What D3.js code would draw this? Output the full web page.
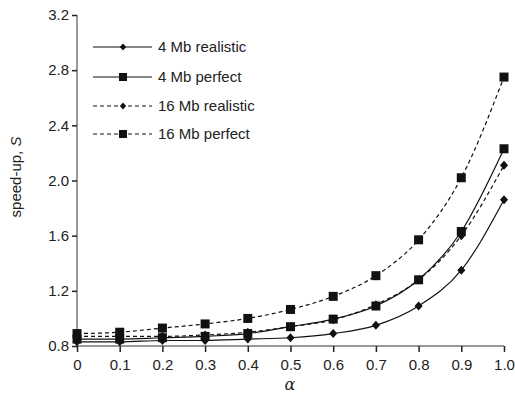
<!DOCTYPE html>
<html>
<head>
<meta charset="utf-8">
<script src="https://cdn.jsdelivr.net/npm/d3@7"></script>
<style>
  body { margin: 0; background: #fff; }
  text { font-family: "Liberation Sans", Arial, sans-serif; fill: #222; }
</style>
</head>
<body>
<div id="chart"></div>
<script>
var alphas = [0, 0.1, 0.2, 0.3, 0.4, 0.5, 0.6, 0.7, 0.8, 0.9, 1.0];
var mb4Realistic  = [0.83, 0.83, 0.84, 0.84, 0.85, 0.86, 0.89, 0.95, 1.09, 1.35, 1.86];
var mb4Perfect    = [0.85, 0.85, 0.86, 0.87, 0.89, 0.94, 0.995, 1.09, 1.28, 1.63, 2.23];
var mb16Realistic = [0.87, 0.87, 0.87, 0.88, 0.90, 0.94, 0.99, 1.10, 1.28, 1.60, 2.11];
var mb16Perfect   = [0.89, 0.90, 0.93, 0.96, 1.00, 1.065, 1.16, 1.31, 1.57, 2.02, 2.75];
var yTicks = [0.8, 1.2, 1.6, 2.0, 2.4, 2.8, 3.2];
var xTicks = [0, 0.1, 0.2, 0.3, 0.4, 0.5, 0.6, 0.7, 0.8, 0.9, 1.0];

var series = [
  {name: '4 Mb realistic', values: mb4Realistic, dash: null, marker: 'diamond'},
  {name: '4 Mb perfect', values: mb4Perfect, dash: null, marker: 'square'},
  {name: '16 Mb realistic', values: mb16Realistic, dash: '4,3', marker: 'diamond'},
  {name: '16 Mb perfect', values: mb16Perfect, dash: '4,3', marker: 'square'}
];

var width = 515, height = 394;
var svg = d3.select('#chart').append('svg')
    .attr('width', width)
    .attr('height', height);

var x = d3.scaleLinear().domain([0, 1]).range([77, 504]);
var y = d3.scaleLinear().domain([0.8, 3.2]).range([346, 15]);

// axes
var xAxis = svg.append('g')
    .attr('transform', 'translate(0,346)')
    .call(d3.axisBottom(x).tickValues(xTicks).tickSize(6).tickPadding(7)
          .tickFormat(function(d) { return d === 0 ? '0' : d3.format('.1f')(d); }));
var yAxis = svg.append('g')
    .attr('transform', 'translate(77,0)')
    .call(d3.axisLeft(y).tickValues(yTicks).tickSize(5).tickPadding(3).tickFormat(d3.format('.1f')));

[xAxis, yAxis].forEach(function(a) {
  a.select('.domain').attr('stroke', '#777').attr('stroke-width', 1.5);
  a.selectAll('.tick line').attr('stroke', '#222').attr('stroke-width', 1.5);
  a.selectAll('.tick text').style('font-size', '15px')
      .style('font-family', '"Liberation Sans", Arial, sans-serif').attr('fill', '#222');
});
yAxis.select('.domain').attr('d', 'M0,346V15');
xAxis.select('.domain').attr('d', 'M' + x(0) + ',0H' + x(1));

// axis titles
svg.append('text')
    .attr('x', 290).attr('y', 390)
    .attr('text-anchor', 'middle')
    .style('font-family', '"DejaVu Serif", "Liberation Serif", serif')
    .style('font-style', 'italic')
    .style('font-size', '16px')
    .text('α');

var yl = svg.append('text')
    .attr('transform', 'translate(21,177) rotate(-90)')
    .attr('text-anchor', 'middle')
    .style('font-size', '15px');
yl.append('tspan').text('speed-up, ');
yl.append('tspan').style('font-style', 'italic').text('S');

function drawMarker(g, type, cx, cy, r) {
  if (type === 'diamond') {
    g.append('path')
      .attr('d', 'M' + cx + ',' + (cy - r) + 'L' + (cx + r * 0.9) + ',' + cy + 'L' + cx + ',' + (cy + r) + 'L' + (cx - r * 0.9) + ',' + cy + 'Z')
      .attr('fill', '#111');
  } else {
    g.append('rect')
      .attr('x', cx - r).attr('y', cy - r)
      .attr('width', 2 * r).attr('height', 2 * r)
      .attr('fill', '#111');
  }
}

var line = d3.line()
    .x(function(d, i) { return x(alphas[i]); })
    .y(function(d) { return y(d); })
    .curve(d3.curveMonotoneX);

series.forEach(function(s) {
  var g = svg.append('g');
  g.append('path')
    .attr('d', line(s.values))
    .attr('fill', 'none')
    .attr('stroke', '#111')
    .attr('stroke-width', 1.2)
    .attr('stroke-dasharray', s.dash);
  s.values.forEach(function(v, i) {
    drawMarker(g, s.marker, x(alphas[i]), y(v), 4.5);
  });
});

// legend
var legendY = [47, 77, 106, 134];
series.forEach(function(s, i) {
  var g = svg.append('g');
  g.append('line')
    .attr('x1', 93).attr('x2', 152)
    .attr('y1', legendY[i]).attr('y2', legendY[i])
    .attr('stroke', '#111').attr('stroke-width', 1.2)
    .attr('stroke-dasharray', s.dash);
  drawMarker(g, s.marker, 123, legendY[i], s.marker === 'diamond' ? 3.5 : 4);
  g.append('text')
    .attr('x', 158).attr('y', legendY[i] + 5)
    .style('font-size', '15px')
    .text(s.name);
});
</script>
</body>
</html>
